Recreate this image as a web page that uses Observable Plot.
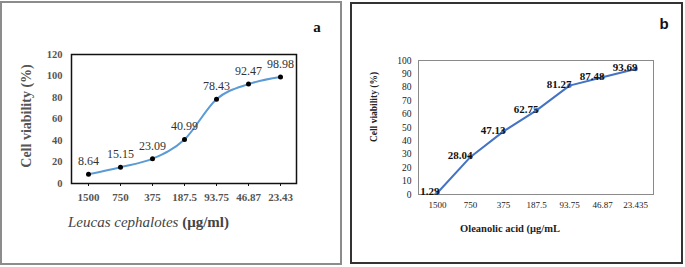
<!DOCTYPE html>
<html><head><meta charset="utf-8">
<script src="https://cdn.jsdelivr.net/npm/d3@7"></script>
<script src="https://cdn.jsdelivr.net/npm/@observablehq/plot@0.6"></script>
<style>
body{margin:0;width:685px;height:267px;position:relative;overflow:hidden;background:#fff;font-family:"Liberation Serif","Times New Roman",serif;}
.abs{position:absolute;}
.border{position:absolute;box-sizing:border-box;pointer-events:none;}
.t{position:absolute;white-space:nowrap;line-height:1;font-family:"Liberation Serif","Times New Roman",serif;}
</style></head><body>
<div id="pa" class="abs" style="left:0;top:0"></div>
<div id="pb" class="abs" style="left:345px;top:0"></div>
<div class="border" style="left:0;top:1px;width:342px;height:264px;border:2px solid #8c8c8c"></div>
<div class="border" style="left:350px;top:2px;width:333px;height:262px;border:2px solid #333"></div>
<div class="t" style="left:27px;top:116px;transform:translate(-50%,-50%) rotate(-90deg);font-size:14px;font-weight:bold;color:#555">Cell viability (%)</div>
<div class="t" style="left:68px;top:222px;transform:translateY(-50%);font-size:15px;color:#444"><i>Leucas cephalotes</i> <b>(μg/ml)</b></div>
<div class="t" style="left:317px;top:27px;transform:translate(-50%,-50%);font-size:15px;font-weight:bold;color:#111">a</div>
<div class="t" style="left:375px;top:107px;transform:translate(-50%,-50%) rotate(-90deg);font-size:9.5px;font-weight:bold;color:#222">Cell viability (%)</div>
<div class="t" style="left:510px;top:229px;transform:translate(-50%,-50%);font-size:10.5px;font-weight:bold;color:#222">Oleanolic acid (μg/mL</div>
<div class="t" style="left:664px;top:23px;transform:translate(-50%,-50%);font-size:15px;font-weight:bold;color:#111;font-family:'Liberation Sans',sans-serif">b</div>
<script>
const concA = ["1500","750","375","187.5","93.75","46.87","23.43"];
const viabA = [8.64, 15.15, 23.09, 40.99, 78.43, 92.47, 98.98];
const yTicksA = [0, 20, 40, 60, 80, 100, 120];

const concB = ["1500","750","375","187.5","93.75","46.87","23.435"];
const viabB = [1.29, 28.04, 47.13, 62.75, 81.27, 87.48, 93.69];
const yTicksB = [0, 10, 20, 30, 40, 50, 60, 70, 80, 90, 100];

const dataA = concA.map((c, i) => ({c, v: viabA[i]}));
const dataB = concB.map((c, i) => ({c, v: viabB[i]}));

const plotA = Plot.plot({
  width: 345, height: 267,
  marginLeft: 71, marginRight: 49, marginTop: 54, marginBottom: 84,
  style: {fontFamily: "Liberation Serif, Times New Roman, serif", background: "transparent", fontWeight: "bold"},
  x: {type: "point", domain: concA, padding: 0.5, label: null},
  y: {domain: [0, 120], label: null},
  marks: [
    Plot.axisX({tickSize: 3, tickPadding: 7, fontSize: 11, fill: "#555", stroke: "#111", label: null}),
    Plot.axisY({ticks: yTicksA, tickSize: 0, tickPadding: 9, fontSize: 10.5, fill: "#555", label: null}),
    Plot.frame({stroke: "#111", strokeWidth: 1.5}),
    Plot.line(dataA, {x: "c", y: "v", curve: "cardinal", stroke: "#5B9BD5", strokeWidth: 2}),
    Plot.dot(dataA, {x: "c", y: "v", r: 2.5, fill: "#000"}),
    Plot.text(dataA, {x: "c", y: "v", text: d => d.v.toFixed(2), dy: -13, lineAnchor: "middle", fontSize: 12, fontWeight: "normal", fill: "#333"})
  ]
});
document.getElementById("pa").appendChild(plotA);

const plotB = Plot.plot({
  width: 340, height: 267,
  marginLeft: 73, marginRight: 32, marginTop: 60, marginBottom: 73,
  style: {fontFamily: "Liberation Serif, Times New Roman, serif", background: "transparent"},
  x: {type: "point", domain: concB, padding: 0.5, label: null},
  y: {domain: [0, 100], label: null},
  marks: [
    Plot.axisX({tickSize: 0, tickPadding: 7, fontSize: 9, fill: "#222", label: null}),
    Plot.axisY({ticks: yTicksB, tickSize: 0, tickPadding: 7, fontSize: 9.5, fill: "#222", label: null}),
    Plot.frame({stroke: "#8a8a8a", strokeWidth: 1}),
    Plot.line(dataB, {x: "c", y: "v", stroke: "#4472C4", strokeWidth: 2}),
    Plot.dot(dataB, {x: "c", y: "v", r: 2.3, fill: "#4472C4"}),
    Plot.text(dataB, {x: "c", y: "v", text: d => d.v.toFixed(2), textAnchor: "end", dx: 2, dy: -1, lineAnchor: "middle", fontSize: 11, fontWeight: "bold", fill: "#111"})
  ]
});
document.getElementById("pb").appendChild(plotB);
</script>
</body></html>
